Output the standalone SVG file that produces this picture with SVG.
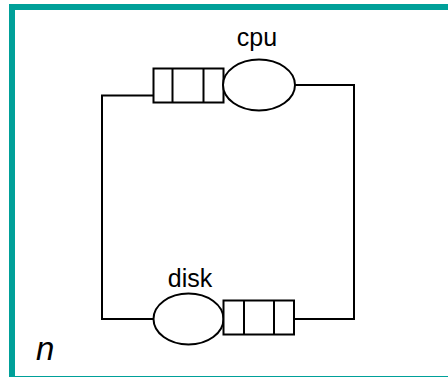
<svg xmlns="http://www.w3.org/2000/svg" width="448" height="377" viewBox="0 0 448 377">
<style>
.frame{fill:#fff;stroke:#00A099;stroke-width:6}
.sh{fill:#fff;stroke:#000;stroke-width:2}
.ln{fill:none;stroke:#000;stroke-width:2}
.lbl{font-family:"Liberation Sans",Arial,sans-serif;font-size:25px;fill:#000;text-anchor:middle}
.var{font-family:"Liberation Sans",Arial,sans-serif;font-size:33px;font-style:italic;fill:#000}
</style>
<rect class="frame" x="12" y="7" width="440" height="372"/>
<g id="connectors">
<polyline class="ln" points="295,85 354,85 354,319 294,319"/>
<polyline class="ln" points="153,319 102,319 102,95.5 153.5,95.5"/>
</g>
<g id="cpu">
<rect class="sh" x="153.5" y="68.5" width="70" height="34"/>
<line class="ln" x1="172.5" y1="68.5" x2="172.5" y2="102.5"/>
<line class="ln" x1="203.5" y1="68.5" x2="203.5" y2="102.5"/>
<ellipse class="sh" cx="259" cy="85" rx="36" ry="25.5"/>
<text class="lbl" x="257" y="46">cpu</text>
</g>
<g id="disk">
<ellipse class="sh" cx="188.5" cy="319" rx="35" ry="25.5"/>
<rect class="sh" x="223.5" y="300.5" width="70.5" height="34"/>
<line class="ln" x1="244" y1="300.5" x2="244" y2="334.5"/>
<line class="ln" x1="274" y1="300.5" x2="274" y2="334.5"/>
<text class="lbl" x="190" y="287">disk</text>
</g>
<text class="var" x="36" y="360">n</text>
</svg>
